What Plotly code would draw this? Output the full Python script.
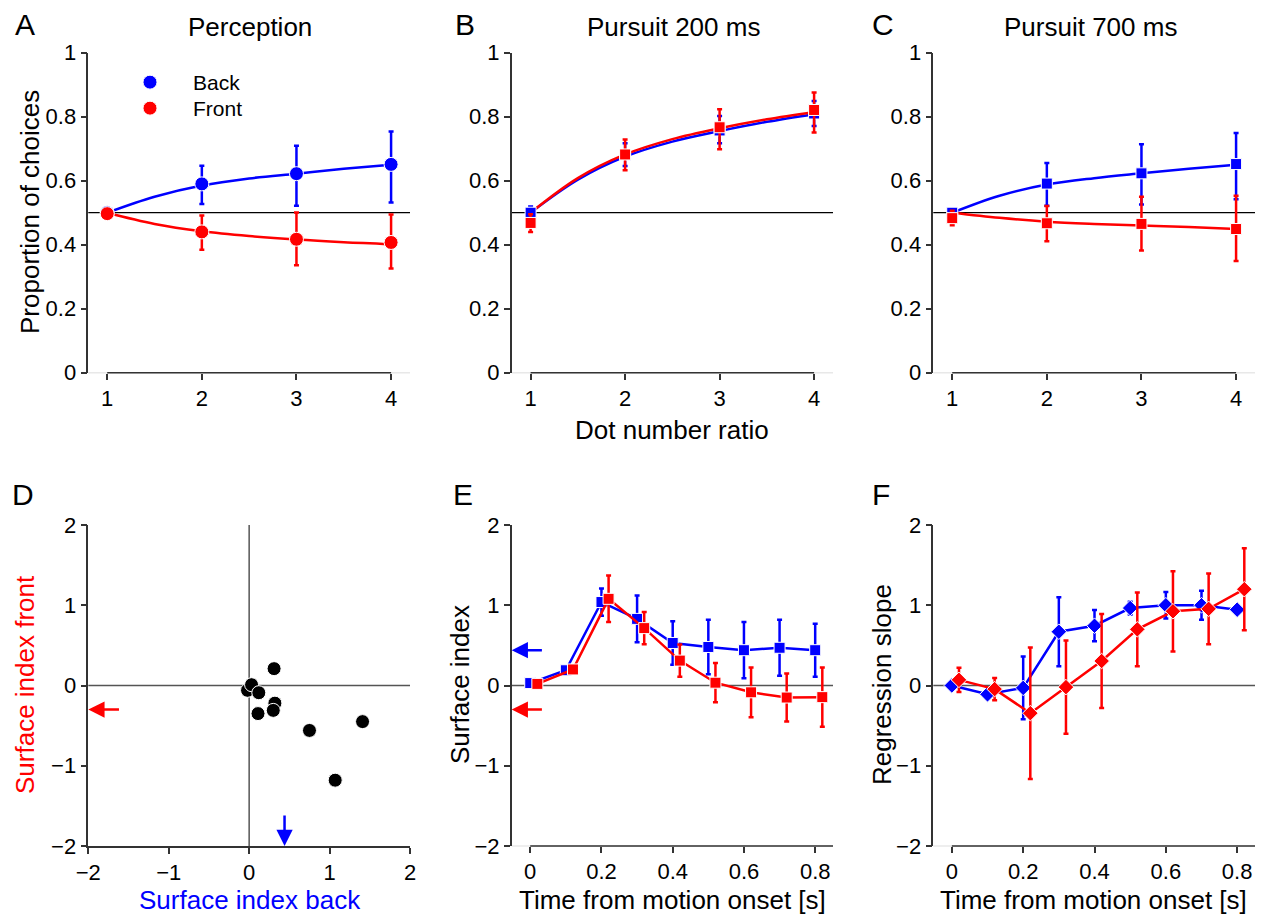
import numpy as np
import plotly.graph_objects as go

W, H = 1262, 918
FONT = "Liberation Sans, Arial, Helvetica, sans-serif"
BLUE = "#0000ff"
RED = "#ff0000"
AX = "#333333"

# ---------------- data ----------------
ratio = [1, 2, 3, 4]
fit_ratio = [1, 1.5, 2, 2.5, 3, 3.5, 4]

# Perception (A)
perc_back = [0.500, 0.590, 0.622, 0.651]
perc_back_up = [0.0, 0.057, 0.087, 0.103]
perc_back_dn = [0.0, 0.063, 0.100, 0.119]
perc_front = [0.497, 0.440, 0.417, 0.407]
perc_front_up = [0.0, 0.051, 0.084, 0.087]
perc_front_dn = [0.0, 0.056, 0.081, 0.081]
perc_fit_back = [0.500, 0.550, 0.585, 0.607, 0.622, 0.637, 0.650]
perc_fit_front = [0.500, 0.465, 0.442, 0.427, 0.416, 0.408, 0.402]

# Pursuit 200 ms (B)
p200_back = [0.500, 0.680, 0.757, 0.810]
p200_back_up = [0.019, 0.037, 0.045, 0.039]
p200_back_dn = [0.020, 0.034, 0.040, 0.039]
p200_front = [0.468, 0.682, 0.767, 0.821]
p200_front_up = [0.027, 0.047, 0.056, 0.055]
p200_front_dn = [0.028, 0.049, 0.069, 0.070]
p200_fit_back = [0.500, 0.603, 0.675, 0.722, 0.755, 0.784, 0.808]
p200_fit_front = [0.500, 0.608, 0.682, 0.730, 0.764, 0.792, 0.815]

# Pursuit 700 ms (C)
p700_back = [0.500, 0.591, 0.623, 0.652]
p700_back_up = [0.010, 0.064, 0.091, 0.097]
p700_back_dn = [0.010, 0.069, 0.097, 0.110]
p700_front = [0.483, 0.467, 0.465, 0.449]
p700_front_up = [0.023, 0.054, 0.085, 0.104]
p700_front_dn = [0.022, 0.056, 0.083, 0.100]
p700_fit_back = [0.500, 0.553, 0.588, 0.608, 0.623, 0.637, 0.650]
p700_fit_front = [0.500, 0.484, 0.472, 0.465, 0.460, 0.455, 0.449]

# Individual surface indices (D)
si_ind_back = [-0.02, 0.03, 0.12, 0.31, 0.32, 0.30, 0.11, 0.75, 1.41, 1.07]
si_ind_front = [-0.06, 0.01, -0.09, 0.21, -0.22, -0.31, -0.35, -0.56, -0.45, -1.18]

# Time course (E, F)
t_back = [0.0, 0.1, 0.2, 0.3, 0.4, 0.5, 0.6, 0.7, 0.8]
t_front = [0.02, 0.12, 0.22, 0.32, 0.42, 0.52, 0.62, 0.72, 0.82]

si_back = [0.03, 0.19, 1.04, 0.83, 0.53, 0.48, 0.44, 0.47, 0.44]
si_back_err = [0.02, 0.03, 0.17, 0.29, 0.27, 0.34, 0.35, 0.35, 0.33]
si_front = [0.02, 0.20, 1.08, 0.715, 0.31, 0.035, -0.085, -0.15, -0.145]
si_front_err = [0.03, 0.03, 0.29, 0.20, 0.20, 0.245, 0.31, 0.30, 0.37]

rs_back = [0.00, -0.11, -0.03, 0.67, 0.745, 0.965, 1.00, 1.00, 0.945]
rs_back_err = [0.04, 0.05, 0.39, 0.43, 0.195, 0.08, 0.165, 0.18, 0.05]
rs_front = [0.07, -0.045, -0.345, -0.02, 0.305, 0.70, 0.925, 0.955, 1.20]
rs_front_err = [0.15, 0.14, 0.82, 0.58, 0.585, 0.46, 0.50, 0.44, 0.51]

mean_back = float(np.mean(si_ind_back))
mean_front = float(np.mean(si_ind_front))

# ---------------- layout helpers ----------------
def fx(px):
    return px / W


def fy(py):
    return 1 - py / H


def xid(i):
    return "x" if i == 1 else f"x{i}"


def yid(i):
    return "y" if i == 1 else f"y{i}"


col_px = [(88.3, 410.0), (511.7, 833.0), (933.3, 1255.0)]
top_px = (52.7, 372.7)
bot_px = (525.0, 846.0)

fig = go.Figure()


def err(up, dn=None, color=BLUE):
    d = dict(type="data", array=up, color=color, thickness=2.5, width=2.5, visible=True)
    if dn is not None:
        d["symmetric"] = False
        d["arrayminus"] = dn
    return d


def add_fit(i, y, color):
    fig.add_trace(go.Scatter(
        x=fit_ratio, y=y, mode="lines", line=dict(color=color, width=2.5, shape="spline"),
        xaxis=xid(i), yaxis=yid(i), showlegend=False, hoverinfo="skip"))


def add_points(i, y, up, dn, color, symbol, size, name=None, legend=None):
    fig.add_trace(go.Scatter(
        x=ratio, y=y, mode="markers", name=name, showlegend=legend is not None,
        legend=legend or "legend",
        marker=dict(color=color, symbol=symbol, size=size, line=dict(color="white", width=1)),
        error_y=err(up, dn, color), xaxis=xid(i), yaxis=yid(i)))


# A: perception
add_fit(1, perc_fit_back, BLUE)
add_fit(1, perc_fit_front, RED)
add_points(1, perc_back, perc_back_up, perc_back_dn, BLUE, "circle", 14, "Back", "legend")
add_points(1, perc_front, perc_front_up, perc_front_dn, RED, "circle", 14, "Front", "legend2")

# B: pursuit 200 ms
add_fit(2, p200_fit_back, BLUE)
add_fit(2, p200_fit_front, RED)
add_points(2, p200_back, p200_back_up, p200_back_dn, BLUE, "square", 11)
add_points(2, p200_front, p200_front_up, p200_front_dn, RED, "square", 11)

# C: pursuit 700 ms
add_fit(3, p700_fit_back, BLUE)
add_fit(3, p700_fit_front, RED)
add_points(3, p700_back, p700_back_up, p700_back_dn, BLUE, "square", 11)
add_points(3, p700_front, p700_front_up, p700_front_dn, RED, "square", 11)

# D: individual observers
fig.add_trace(go.Scatter(
    x=si_ind_back, y=si_ind_front, mode="markers", showlegend=False,
    marker=dict(color="black", size=14, line=dict(color="white", width=1)),
    xaxis="x4", yaxis="y4"))

# E: surface index over time
for t, y, e, c in [(t_back, si_back, si_back_err, BLUE), (t_front, si_front, si_front_err, RED)]:
    fig.add_trace(go.Scatter(
        x=t, y=y, mode="lines+markers", showlegend=False,
        line=dict(color=c, width=2.5),
        marker=dict(color=c, symbol="square", size=11, line=dict(color="white", width=1)),
        error_y=err(e, None, c), xaxis="x5", yaxis="y5"))

# F: regression slope over time
for t, y, e, c in [(t_back, rs_back, rs_back_err, BLUE), (t_front, rs_front, rs_front_err, RED)]:
    fig.add_trace(go.Scatter(
        x=t, y=y, mode="lines+markers", showlegend=False,
        line=dict(color=c, width=2.5),
        marker=dict(color=c, symbol="diamond", size=12, line=dict(color="white", width=1)),
        error_y=err(e, None, c), xaxis="x6", yaxis="y6"))

# ---------------- axes ----------------
tickfont = dict(family=FONT, size=22, color="black")
base = dict(showgrid=False, zeroline=False, ticks="outside", ticklen=6, tickwidth=1.5,
            tickcolor=AX, tickfont=tickfont, linecolor=AX, linewidth=1.5, fixedrange=True,
            automargin=False)

top_ticks = [0, 0.2, 0.4, 0.6, 0.8, 1]
top_text = ["0", "0.2", "0.4", "0.6", "0.8", "1"]
bot_ticks = [-2, -1, 0, 1, 2]
time_ticks = [0, 0.2, 0.4, 0.6, 0.8]
time_range = [-0.052, 0.85]

layout_axes = {}
for k in range(6):
    i = k + 1
    c0, c1 = col_px[k % 3]
    r0, r1 = top_px if k < 3 else bot_px
    xa = dict(base, domain=[fx(c0), fx(c1)], anchor=yid(i))
    ya = dict(base, domain=[fy(r1), fy(r0)], anchor=xid(i), showline=True)
    if k < 3:
        xa.update(range=[0.8, 4.2], tickvals=ratio, showline=False)
        ya.update(range=[0, 1], tickvals=top_ticks, ticktext=top_text)
    elif k == 3:
        xa.update(range=[-2, 2], tickvals=bot_ticks, showline=True)
        ya.update(range=[-2, 2], tickvals=bot_ticks)
    else:
        xa.update(range=time_range, tickvals=time_ticks, showline=False)
        ya.update(range=[-2, 2], tickvals=bot_ticks)
    layout_axes["xaxis" if i == 1 else f"xaxis{i}"] = xa
    layout_axes["yaxis" if i == 1 else f"yaxis{i}"] = ya

fig.update_layout(**layout_axes)

# ---------------- reference lines & axis baselines ----------------
shapes = []
for k in range(6):
    i = k + 1
    if k == 3:
        continue
    shapes.append(dict(type="line", xref=f"{xid(i)} domain", yref=f"{yid(i)} domain",
                       x0=0, x1=1, y0=0, y1=0, line=dict(color="#e8e8e8", width=1.5), layer="below"))
    seg = (ratio[0], ratio[-1]) if k < 3 else (0, time_range[1])
    shapes.append(dict(type="line", xref=xid(i), yref=f"{yid(i)} domain",
                       x0=seg[0], x1=seg[1], y0=0, y1=0, line=dict(color=AX, width=1.5)))

for i in (1, 2, 3):
    shapes.append(dict(type="line", xref=f"{xid(i)} domain", yref=yid(i), x0=0, x1=1,
                       y0=0.5, y1=0.5, line=dict(color="black", width=1.2), layer="below"))
for i in (4, 5, 6):
    shapes.append(dict(type="line", xref=f"{xid(i)} domain", yref=yid(i), x0=0, x1=1,
                       y0=0, y1=0, line=dict(color="#555555", width=1.5), layer="below"))
shapes.append(dict(type="line", xref="x4", yref="y4 domain", x0=0, x1=0, y0=0, y1=1,
                   line=dict(color="#555555", width=1.5), layer="below"))

# ---------------- text ----------------
ann = []


def text(s, x, y, size, color="black", angle=0):
    ann.append(dict(text=s, x=fx(x), y=fy(y), xref="paper", yref="paper", showarrow=False,
                    xanchor="center", yanchor="middle", textangle=angle,
                    font=dict(family=FONT, size=size, color=color)))


for s, x, y in [("A", 25, 24), ("B", 465, 24), ("C", 883, 24),
                ("D", 23, 494), ("E", 463, 494), ("F", 881, 494)]:
    text(s, x, y, 30)

text("Perception", 250, 27, 26)
text("Pursuit 200 ms", 673, 27, 26)
text("Pursuit 700 ms", 1090, 27, 26)
text("Proportion of choices", 30, 212, 26, angle=-90)
text("Dot number ratio", 672, 430, 26)
text("Surface index front", 25, 685, 26, RED, -90)
text("Surface index back", 250, 900, 26, BLUE)
text("Surface index", 460, 685, 26, angle=-90)
text("Time from motion onset [s]", 672, 900, 26)
text("Time from motion onset [s]", 1093, 900, 26)
text("Regression slope", 882, 685, 26, angle=-90)


def arrow(xr, yr, x, y, ax, ay, color):
    ann.append(dict(text="", x=x, y=y, ax=ax, ay=ay, xref=xr, yref=yr, axref=xr, ayref=yr,
                    showarrow=True, arrowhead=2, arrowsize=1.3, arrowwidth=2.5,
                    arrowcolor=color, standoff=0, startstandoff=0))


# mean indices across observers marked on the D and E axes
arrow("x4", "y4", -2, mean_front, -1.6, mean_front, RED)
arrow("x4", "y4", mean_back, -2, mean_back, -1.6, BLUE)
arrow("x5", "y5", time_range[0], mean_back, 0.037, mean_back, BLUE)
arrow("x5", "y5", time_range[0], mean_front, 0.037, mean_front, RED)

legend_style = dict(xanchor="left", yanchor="top", bgcolor="rgba(0,0,0,0)", borderwidth=0,
                    itemwidth=76, font=dict(family=FONT, size=21, color="black"))

fig.update_layout(
    width=W, height=H, margin=dict(l=0, r=0, t=0, b=0, autoexpand=False),
    paper_bgcolor="white", plot_bgcolor="white",
    shapes=shapes, annotations=ann,
    font=dict(family=FONT, color="black"),
    showlegend=True,
    legend=dict(legend_style, x=fx(107), y=fy(62)),
    legend2=dict(legend_style, x=fx(107), y=fy(88)),
)

fig.write_html("out.html")
